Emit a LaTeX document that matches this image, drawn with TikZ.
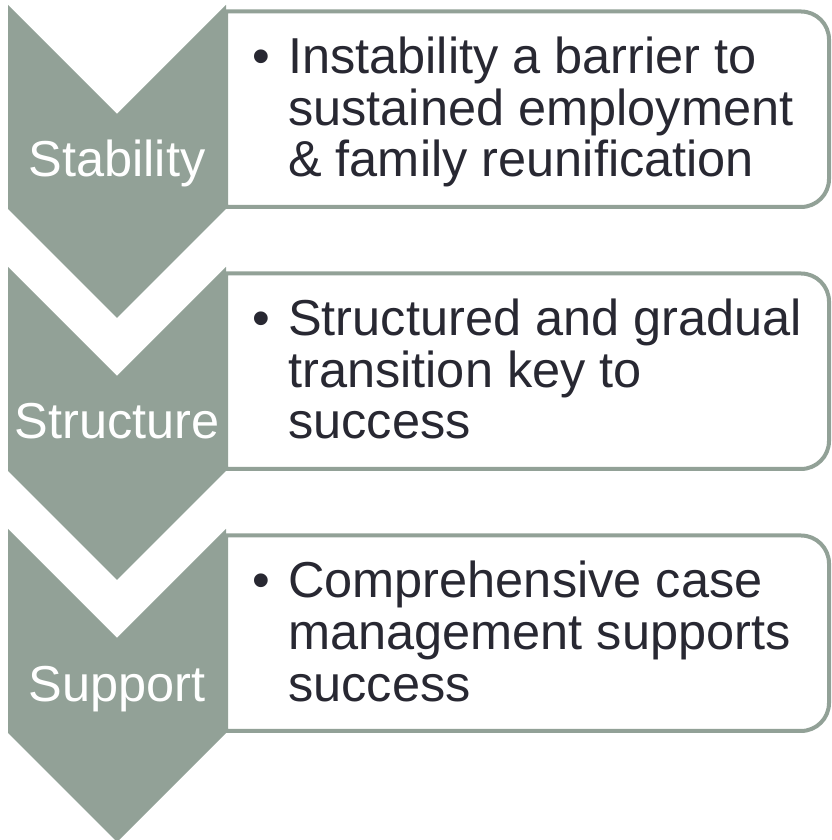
\documentclass[tikz,border=0pt]{standalone}
\usepackage{fontspec}
\setmainfont{Liberation Sans}
\definecolor{chev}{RGB}{146,161,151}
\definecolor{ink}{RGB}{40,40,50}
\begin{document}
\begin{tikzpicture}[x=1pt,y=1pt,
  chevron/.style={fill=chev,draw=none},
  panel/.style={draw=chev,line width=4pt,fill=white},
  label/.style={anchor=base,inner sep=0pt,text=white,font=\fontsize{50.5}{52}\selectfont},
  line/.style={anchor=base west,inner sep=0pt,text=ink,font=\fontsize{50.5}{52}\selectfont},
  bullet/.style={anchor=base west,inner sep=0pt,text=ink,font=\fontsize{50.5}{52}\selectfont}]
\useasboundingbox (0,0) rectangle (831,840);
% panels
\foreach \k in {0,1,2}{
  \pgfmathsetmacro{\t}{828.5-262*\k}
  \pgfmathsetmacro{\b}{633-262*\k}
  \draw[panel] (226,\t) -- (801,\t) arc[start angle=90,end angle=0,radius=28]
    -- (829,\b+28) arc[start angle=0,end angle=-90,radius=28] -- (226,\b) -- cycle;
}
% chevrons
\foreach \k in {0,1,2}{
  \pgfmathsetmacro{\t}{835-262*\k}
  \fill[chevron] (8,\t) -- (117,\t-109) -- (226,\t) -- (226,\t-204) -- (117,\t-313) -- (8,\t-204) -- cycle;
}
% labels
\node[label] (l1) at (117,663) {Stability};
\node[label] (l2) at (117,401) {Structure};
\node[label] (l3) at (117,138.5) {Support};
% text 1
\node[bullet] (b1) at (252,766.5) {•};
\node[line] (t1a) at (288,766.5) {Instability a barrier to};
\node[line] (t1b) at (288,714.8) {sustained employment};
\node[line] (t1c) at (288,663) {\& family reunification};
% text 2
\node[bullet] (b2) at (252,504.5) {•};
\node[line] (t2a) at (288,504.5) {Structured and gradual};
\node[line] (t2b) at (288,452.8) {transition key to};
\node[line] (t2c) at (288,401) {success};
% text 3
\node[bullet] (b3) at (252,242) {•};
\node[line] (t3a) at (288,242) {Comprehensive case};
\node[line] (t3b) at (288,190.3) {management supports};
\node[line] (t3c) at (288,138.5) {success};
\end{tikzpicture}
\end{document}
